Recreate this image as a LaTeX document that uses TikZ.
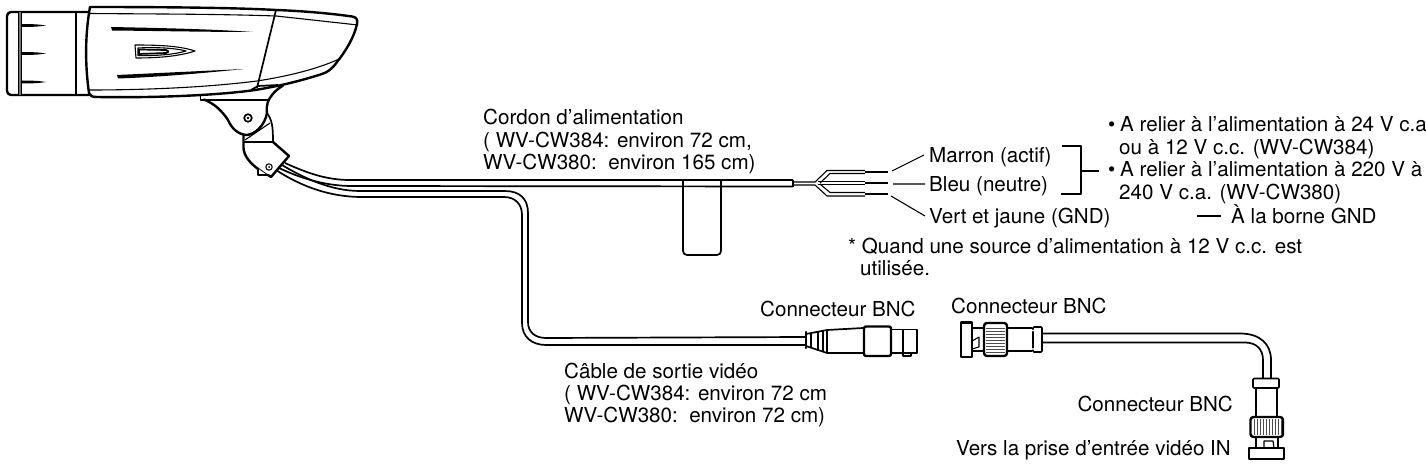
\documentclass[tikz,border=0pt]{standalone}
\usepackage{fontspec}
\setmainfont{TeX Gyre Heros}
\tikzset{
 hv/.style={line width=2.4pt,line join=round,line cap=round},
 md/.style={line width=1.7pt,line join=round},
 lt/.style={line width=1.1pt,line join=round},
 hair/.style={line width=0.8pt},
 lab/.style={anchor=base west,inner sep=0pt,font=\fontsize{20.6}{22.7}\selectfont},
 labr/.style={anchor=base east,inner sep=0pt,font=\fontsize{20.6}{22.7}\selectfont},
 multi/.style={lab,align=left},
 grayrib/.style={line width=0.8pt,black!70},
}
\begin{document}
\begin{tikzpicture}[x=1pt,y=-1pt]
\useasboundingbox (0,0) rectangle (1426,465);
\fill[white] (0,0) rectangle (1426,465);
% lens
\draw[hv] (89,12) -- (11,12) to[out=180,in=90] (7,16) -- (7,91) to[out=-90,in=180] (11,95) -- (89,95);
\draw[line width=2.6pt,black!55] (20,12) -- (20,95);
\draw[hair] (18.3,12) -- (18.3,95) (21.7,12) -- (21.7,95);
\draw[lt] (76,12) -- (76,95);
\foreach \yy in {25.5,53.5,82}{\fill (22,\yy-1.5) .. controls (33,\yy-1.5) and (40,\yy-1) .. (46,\yy) .. controls (40,\yy+1) and (33,\yy+1.5) .. (22,\yy+1.5) -- cycle;}
% body
\draw[hv] (90,7) .. controls (180,7) and (240,8) .. (276,10) .. controls (305,11) and (335,14) .. (352,16.5) .. controls (356,17) and (358,19) .. (357,24) .. controls (354,38) and (345,52) .. (337,62) .. controls (332,69) and (328,72) .. (322,74) .. controls (300,81) and (280,86) .. (255,90) .. controls (220,95) and (160,98) .. (97,97) .. controls (92,97) and (90,96) .. (89,93) .. controls (85,65) and (85,35) .. (90,7) -- cycle;
\draw[lt] (89,13.5) .. controls (150,14) and (220,14) .. (276,16) -- (358,25);
\draw[lt] (89,90) .. controls (150,90) and (210,87) .. (257,81) .. controls (290,76) and (320,68) .. (339,59);
\draw[md] (276,10) -- (257,88);
\draw[md] (251,90) -- (258,86) -- (278,85);
% grooves
\fill (111,27) .. controls (160,28) and (210,29) .. (253,32) .. controls (210,32) and (160,31) .. (112,30.5) -- cycle;
\fill (117,75) -- (244,69) .. controls (205,73) and (160,77) .. (118,78.5) -- cycle;
% logo
\draw[lt] (135,45) .. controls (160,45) and (180,46) .. (195,51) .. controls (180,56) and (160,58) .. (136,58) -- cycle;
\draw[lt] (138,48) .. controls (155,47) and (175,48) .. (186,51) .. controls (175,54.5) and (155,56) .. (138,55.5) -- cycle;
\draw[md] (139,49.5) -- (166,50) .. controls (169,51) and (169,52) .. (166,53) -- (139,54) -- cycle;
% mount
\draw[md] (200.5,96.5) -- (200.5,100) -- (270,100);
\draw[hv] (204,99.5) .. controls (215,104) and (222,111) .. (228,120) .. controls (232,129) and (238,134) .. (246,135) .. controls (255,135) and (265,125) .. (267,113) .. controls (266,105) and (268,100) .. (272,95) .. controls (275,91) and (279,88) .. (283,85.5);
\draw[md] (267,113) .. controls (272,120) and (273,126) .. (273,142);
\draw[hv] (243.5,135) -- (243.5,148) .. controls (244,156) and (250,163) .. (258,169);
\draw[md] (243.5,142) -- (273,142);
\draw[lt] (245,140) -- (270,123);
\draw[md] (258,169) -- (258,175) -- (268,175);
\draw[hair] (258,168) -- (268,175);
\draw[hv] (273,142) -- (289,156) -- (271,177) -- (268,175);
\draw[md] (248,118) circle (3.8);
\fill (248,118) circle (1.3);
\draw[lt] (269,167) circle (3.2);
\fill (269,167) circle (1);
% power cable
\draw[md] (285,163) .. controls (305,172) and (325,180) .. (350,180) -- (793,180);
\draw[md] (279,168) .. controls (300,178) and (325,186) .. (352,186) -- (793,186.5);
\draw[md] (793,180) -- (793,187);
\draw[lt] (683,180) -- (683,187);
\draw[lt] (721,180) -- (721,187);
% tag
\draw[md,rounded corners=4pt] (683,187) -- (683,255) -- (721,255) -- (721,187);
% video cable
\draw[md] (282,165) .. controls (302,177) and (330,191) .. (360,191) -- (505,191) .. controls (520,191) and (528,199) .. (528,213) -- (528,322) .. controls (528,332) and (535,338) .. (546,338) -- (805,337);
\draw[md] (276,170) .. controls (296,183) and (325,197) .. (362,197) -- (504,197) .. controls (515,197) and (522,204) .. (522,215) -- (522,323) .. controls (522,337) and (532,345) .. (546,345) -- (805,345);
% wires
\draw[lt] (793,182) -- (815,182) -- (827,170.5) -- (865,170.5);
\draw[lt] (820,183) -- (830,173.5) -- (865,173.5);
\draw[lt] (793,185) -- (815,185) -- (827,196) -- (865,196);
\draw[lt] (820,184) -- (830,192.5) -- (865,192.5);
\draw[lt] (818,181.5) -- (865,181.5);
\draw[lt] (818,184.5) -- (865,184.5);
\draw[md] (865,172) -- (888,172) (865,183) -- (888,183) (865,194) -- (888,194);
% connector female
\draw[hv] (806,332) -- (806,348);
\draw[md] (806,334) -- (827,330) -- (863,328) (806,346) -- (827,353) -- (863,353);
\draw[lt] (818,331.5) -- (818,350.5) (823,331) -- (823,352) (827,330) -- (827,353);
\draw[lt] (811,333) -- (811,348);
\draw[hv,rounded corners=2pt] (864,326.5) rectangle (891,356);
\draw[md] (891,329.5) -- (917,329.5) -- (917,353) -- (891,353);
\draw[md] (903,329.5) -- (903,353) (903,353) -- (903,356) -- (911,356) -- (911,353);
% connector male
\draw[hv] (961,322.5) rectangle (972,357);
\draw[md] (972,328) -- (984,328) (972,351) -- (984,351);
\draw[lt] (972,341) -- (979,337) -- (979,347) -- (972,349);
\draw[hv,rounded corners=3pt] (984,323) rectangle (1007,356);
\foreach \yy in {328,331,...,352}{\draw[grayrib] (986,\yy) -- (1005,\yy);}
\draw[md] (1007,328) -- (1032,328) (1007,351) -- (1032,351);
\draw[md,rounded corners=1pt] (1033,327) rectangle (1042,352);
\fill[white] (1033,330.5) circle (1.2) (1033,349) circle (1.2);
\draw[md] (1042,333.5) -- (1240,333.5) .. controls (1260,333.5) and (1271,344) .. (1271,360) -- (1271,378);
\draw[md] (1042,342.5) -- (1245,342.5) .. controls (1256,342.5) and (1263,349) .. (1263,360) -- (1263,378);
% vertical connector
\draw[md,rounded corners=1pt] (1253,378.5) rectangle (1279,388);
\fill[white] (1257,382) circle (1.2) (1276,382) circle (1.2);
\draw[md] (1256,388) -- (1256,417) (1277,388) -- (1277,417);
\draw[hv,rounded corners=3pt] (1250.5,417) rectangle (1283,437);
\foreach \xx in {1254,1257,...,1281}{\draw[grayrib] (\xx,419) -- (\xx,435);}
\draw[md] (1256,437) -- (1256,448) (1278,437) -- (1278,448);
\draw[lt] (1264,448) -- (1264,441) -- (1273,441) -- (1274,448);
\draw[hv] (1249,448) rectangle (1284,459);
% pointer lines and labels
\node[lab] (cordon) at (483,125) {Cordon d’alimentation};
\node[lab] (cordon2) at (483,147.5) {( WV-CW384: environ 72 cm,};
\node[lab] (cordon3) at (483,170) {WV-CW380:\ \ environ 165 cm)};
\node[lab] (marron) at (929,163) {Marron (actif)};
\node[lab] (bleu) at (929,192) {Bleu (neutre)};
\node[lab] (vert) at (929,223) {Vert et jaune (GND)};
\coordinate (m1) at (892,171); \coordinate (m2) at (924,155);
\coordinate (b1) at (893,184); \coordinate (b2) at (925,184);
\coordinate (v1) at (891,196); \coordinate (v2) at (925,216);
\draw[lt] (m1) -- (m2) (b1) -- (b2) (v1) -- (v2);
\coordinate (br1) at (1062,146); \coordinate (br2) at (1081,146); \coordinate (br3) at (1081,194); \coordinate (br4) at (1061,194);
\coordinate (br5) at (1080,171); \coordinate (br6) at (1099,171);
\draw[md] (br1) -- (br2) -- (br3) -- (br4) (br5) -- (br6);
\node[lab] (b1a) at (1108,132) {•};
\node[lab] (t1) at (1120,132) {A relier à l'alimentation à 24 V c.a.};
\node[lab] (t2) at (1119,155) {ou à 12 V c.c. (WV-CW384)};
\node[lab] (b1b) at (1108,177) {•};
\node[lab] (t3) at (1120,177) {A relier à l'alimentation à 220 V à};
\node[lab] (t4) at (1119,200) {240 V c.a. (WV-CW380)};
\coordinate (g1) at (1197,216); \coordinate (g2) at (1221,216);
\draw[md] (g1) -- (g2);
\node[lab] (gnd) at (1231,223) {À la borne GND};
\node[lab] (q1) at (848,253) {* Quand une source d'alimentation à 12 V c.c. est};
\node[lab] (q2) at (860,275) {utilisée.};
\node[lab] (bnc1) at (760,316) {Connecteur BNC};
\node[lab] (bnc2) at (951,313) {Connecteur BNC};
\node[labr] (bnc3) at (1233,411) {Connecteur BNC};
\node[labr] (vers) at (1231,455) {Vers la prise d’entrée vidéo IN};
\node[lab] (cab1) at (564,378) {Câble de sortie vidéo};
\node[lab] (cab2) at (564,400) {( WV-CW384: environ 72 cm};
\node[lab] (cab3) at (564,422) {WV-CW380:\ \ environ 72 cm)};
\end{tikzpicture}
\end{document}
